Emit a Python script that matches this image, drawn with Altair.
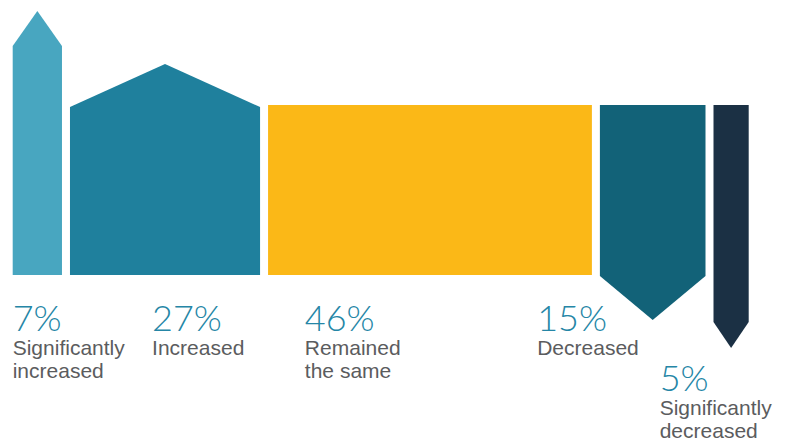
import altair as alt
import pandas as pd

# ---- data ----
categories = ["Significantly increased", "Increased", "Remained the same",
              "Decreased", "Significantly decreased"]
percents = [7, 27, 46, 15, 5]
pct_text = ["7%", "27%", "46%", "15%", "5%"]
label_lines = [["Significantly", "increased"], ["Increased"], ["Remained", "the same"],
               ["Decreased"], ["Significantly", "decreased"]]
# arrow geometry (vertical units, baseline = 0)
upper_shoulder = [229, 168, 170, 170, 170]
upper_tip = [264, 211, 170, 170, 170]
lower_shoulder = [0, 0, 0, -1, -47]
lower_tip = [0, 0, 0, -45, -73]
# label anchors (x in percent units, y in vertical units)
label_x = [0, 19.8, 41.5, 74.5, 91.9]
label_y = [-56, -56, -56, -56, -116]
colors = ["#48A6C0", "#1F809D", "#FBB817", "#126278", "#1B3044"]

# ---- layout ----
W, H = 770, 434
PX = 7.04          # pixels per percent
GAP = 8 / PX       # gap between bars in percent units
X0 = 4.7           # left offset in px
Y0 = 267           # vertical value at top of chart

rows = []
cum = 0.0
for i, (c, p) in enumerate(zip(categories, percents)):
    a = cum + i * GAP
    b = a + p
    m = (a + b) / 2
    rows.append(dict(cat=c, x=a, top=upper_shoulder[i], bot=lower_shoulder[i]))
    rows.append(dict(cat=c, x=m, top=upper_tip[i], bot=lower_tip[i]))
    rows.append(dict(cat=c, x=b, top=upper_shoulder[i], bot=lower_shoulder[i]))
    cum += p
shapes = pd.DataFrame(rows)

pct_df = pd.DataFrame(dict(cat=categories, t=pct_text, x=label_x, y=label_y))
lab_rows = []
for i, lines in enumerate(label_lines):
    for j, ln in enumerate(lines):
        lab_rows.append(dict(cat=categories[i], t=ln, x=label_x[i],
                             y=label_y[i] - 23.5 - 23.5 * j))
lab_df = pd.DataFrame(lab_rows)

xs = alt.Scale(domain=[-X0 / PX, (W - X0) / PX], nice=False, zero=False)
ys = alt.Scale(domain=[Y0 - H, Y0], nice=False, zero=False)

area = alt.Chart(shapes).mark_area(opacity=1, strokeWidth=0).encode(
    x=alt.X("x:Q", scale=xs, axis=None),
    y=alt.Y("top:Q", scale=ys, axis=None, stack=None),
    y2="bot:Q",
    color=alt.Color("cat:N", scale=alt.Scale(domain=categories, range=colors), legend=None),
    detail="cat:N",
)

pct = alt.Chart(pct_df).mark_text(
    align="left", baseline="alphabetic", font="Lato", fontWeight=300,
    fontSize=36, color="#2586A6"
).encode(x=alt.X("x:Q", scale=xs), y=alt.Y("y:Q", scale=ys), text="t:N")

lab = alt.Chart(lab_df).mark_text(
    align="left", baseline="alphabetic", font="Liberation Sans",
    fontSize=21, color="#5B5C5E"
).encode(x=alt.X("x:Q", scale=xs), y=alt.Y("y:Q", scale=ys), text="t:N")

chart = alt.layer(area, pct, lab).properties(
    width=W, height=H, autosize=alt.AutoSizeParams(type="none"), padding=0,
    background="white"
).configure_view(stroke=None)

chart.save("out.html", embed_options={"renderer": "svg", "actions": False})
